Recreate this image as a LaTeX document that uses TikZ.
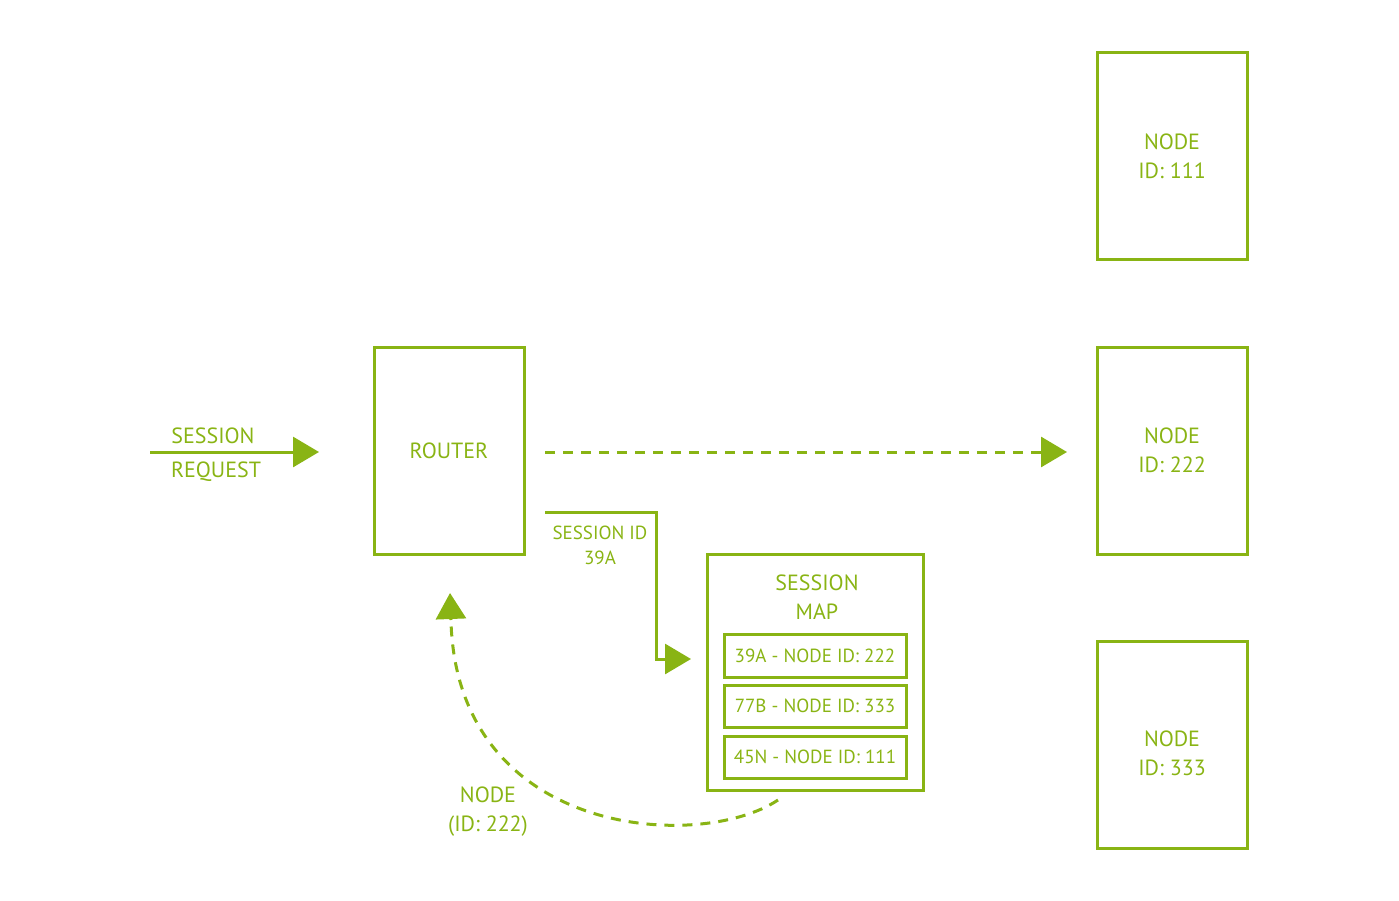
\documentclass[tikz,border=0pt]{standalone}
\usepackage{fontspec}
\setmainfont{PT Sans}
\usetikzlibrary{arrows.meta}
\definecolor{grn}{RGB}{137,180,20}
\begin{document}
\begin{tikzpicture}[x=1pt,y=-1pt,
  line width=3pt, draw=grn,
  every node/.style={text=grn, inner sep=0pt, align=center},
  big/.style={font=\fontsize{22}{29}\selectfont},
  small/.style={font=\fontsize{19}{25}\selectfont},
  box/.style={draw=grn, line width=3pt, minimum width=150pt, minimum height=207pt, big},
  tip/.style={-{Triangle[length=26pt,width=30pt]}},
  dsh/.style={dash pattern=on 10pt off 8pt}]
\useasboundingbox (0,0) rectangle (1399,901);
\node[box] (n111) at (1172,156.5) {NODE\\ID: 111};
\node[box] (n222) at (1172,450.5) {NODE\\ID: 222};
\node[box] (n333) at (1172,744.5) {};
\node[big] (n333l) at (1172,753) {NODE\\ID: 333};
\node[box] (router) at (449,450.5) {ROUTER};
% session request
\coordinate (srs) at (150,452);
\coordinate (sre) at (319,452);
\draw[grn,tip] (srs) -- (sre);
\node[big] (srl1) at (213,436) {SESSION};
\node[big] (srl2) at (216,472) {REQUEST};
% dashed to node 222
\coordinate (ds) at (545,452);
\coordinate (de) at (1067,452);
\draw[grn,dsh] (ds) -- (1045,452);
\draw[grn,tip] (1040,452) -- (de);
% session map
\node[draw=grn, line width=3pt, minimum width=216pt, minimum height=236pt] (map) at (815,672) {};
\node[big] (maptitle) at (817,597) {SESSION\\MAP};
\node[draw=grn, line width=3pt, minimum width=182pt, minimum height=43pt, small] (r1) at (815,655.5) {39A - NODE ID: 222};
\node[draw=grn, line width=3pt, minimum width=182pt, minimum height=42pt, small] (r2) at (815,706) {77B - NODE ID: 333};
\node[draw=grn, line width=3pt, minimum width=182pt, minimum height=42pt, small] (r3) at (815,757) {45N - NODE ID: 111};
% session id connector
\coordinate (ss) at (545,512);
\coordinate (se) at (691,659);
\draw[grn,tip] (ss) -- (656,512) -- (656,659) -- (se);
\node[small] (sid) at (600,545) {SESSION ID\\39A};
% curved return
\coordinate (cs) at (778,800);
\coordinate (ce) at (450,593);
\draw[grn,dsh] (cs) .. controls (700,852) and (458,838) .. (451,622);
\draw[grn,tip] (451,620) -- (ce);
\node[big] (cl) at (488,812) {NODE\\(ID: 222)};
\end{tikzpicture}
\end{document}
